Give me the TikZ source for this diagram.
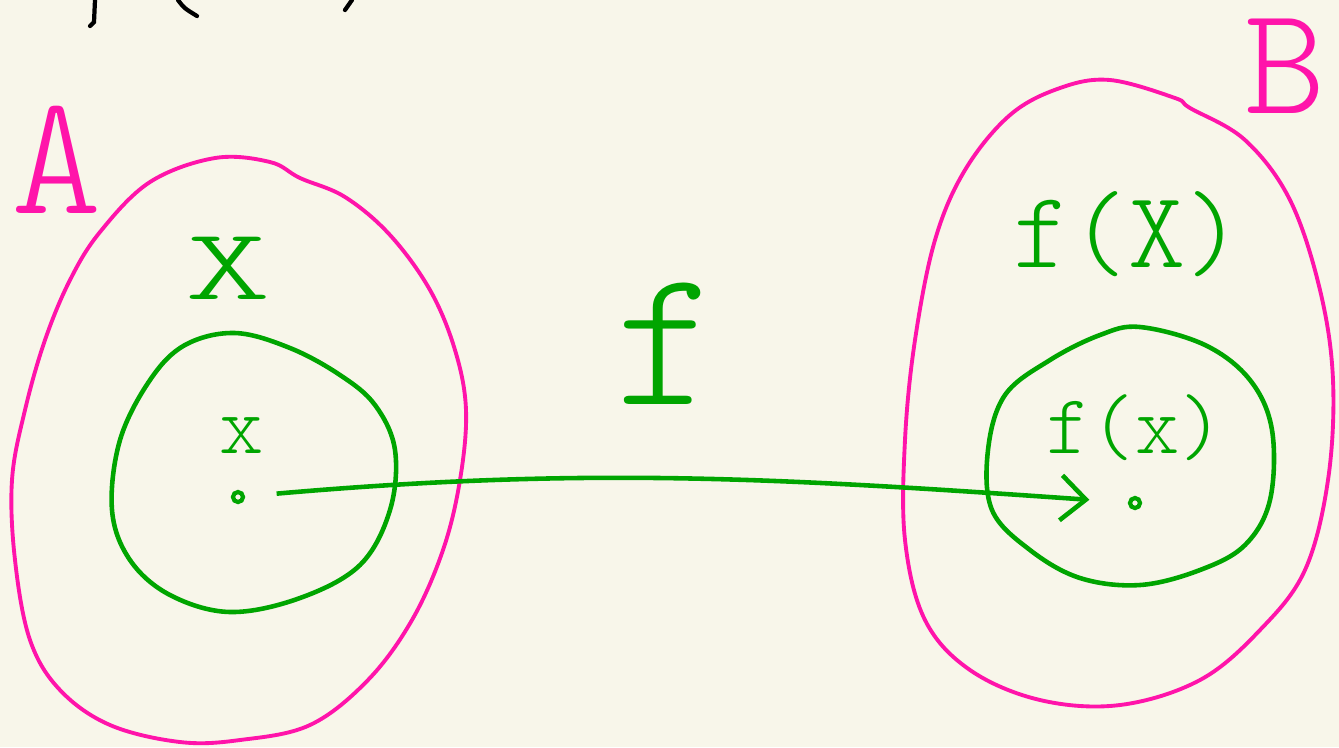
\documentclass[tikz,border=0pt]{standalone}
\usepackage{fontspec}
\usetikzlibrary{arrows.meta}
\newfontfamily\handfont{lmmonolt10-regular.otf}
\definecolor{paper}{RGB}{248,246,234}
\definecolor{setpink}{RGB}{255,20,170}
\definecolor{mapgreen}{RGB}{0,165,0}
\begin{document}
\begin{tikzpicture}[x=0.01cm,y=-0.01cm,
	pinkline/.style = {setpink, line width=1.1pt, line join=round},
	greenline/.style = {mapgreen, line width=1.3pt, line join=round},
	greentext/.style = {mapgreen, font=\handfont},
	pt/.style = {circle, draw=mapgreen, line width=1.2pt, inner sep=0pt, minimum size=0.1cm}]
	\fill [paper] (0,0) rectangle (1339,747);
	\useasboundingbox (0,0) rectangle (1339,747);
	% cut-off writing at the top
	\draw [line width=1.2pt, line cap=round] (95,0) -- (94,22) -- (90,26);
	\draw [line width=1.2pt, line cap=round] (178,0) .. controls (184,8) .. (197,16);
	\draw [line width=1.2pt, line cap=round] (352,0) -- (345,10);
	% set A
	\draw [pinkline] plot [smooth cycle, tension=0.6] coordinates {(215,158) (270,162) (300,178) (345,197) (390,235) (430,290) (455,350) (466,410) (460,480) (443,550) (412,620) (368,680) (310,725) (240,740) (180,742) (110,725) (60,690) (30,640) (15,560) (12,480) (25,410) (45,340) (70,280) (100,232) (150,182)};
	\node [setpink, font=\handfont\fontsize{49}{49}\selectfont] (A) at (57,160) {A};
	\node [greentext, font=\handfont\fontsize{29}{29}\selectfont, xscale=1.6, transform shape] (setX) at (228,268) {X};
	\draw [greenline] plot [smooth cycle, tension=0.6] coordinates {(235,333) (290,348) (340,375) (375,405) (395,450) (390,510) (360,565) (300,598) (230,612) (170,595) (130,560) (112,510) (120,440) (150,380) (185,345)};
	\node [greentext, font=\handfont\fontsize{24}{24}\selectfont] (x) at (242,436) {x};
	\node [pt] (xa) at (238,497) {};
	% set B
	\draw [pinkline] plot [smooth cycle, tension=0.6] coordinates {(1110,80) (1175,98) (1190,108) (1245,140) (1290,200) (1320,290) (1333,380) (1328,480) (1305,570) (1260,630) (1200,680) (1120,705) (1040,700) (970,670) (925,620) (905,540) (905,440) (915,340) (935,240) (965,170) (1010,115) (1060,88)};
	\node [setpink, font=\handfont\fontsize{44}{44}\selectfont, inner sep=0pt, text height=27pt, text depth=0pt] (B) at (1285,66) {B};
	\node [greentext, font=\handfont\fontsize{31}{31}\selectfont] (fX) at (1128,234) {f(X)};
	\draw [greenline] plot [smooth cycle, tension=0.6] coordinates {(1140,327) (1205,345) (1250,380) (1272,430) (1270,500) (1245,545) (1200,570) (1140,585) (1080,578) (1030,550) (992,510) (988,450) (1005,395) (1050,360) (1100,335)};
	\node [greentext, font=\handfont\fontsize{24}{24}\selectfont] (fx) at (1135,428) {f(x)};
	\node [pt] (xb) at (1135,503) {};
	% the map
	\node [greentext, font=\handfont\fontsize{56}{56}\selectfont] (f) at (667,344) {f};
	\draw [greenline, -{Straight Barb[length=2.5mm, width=4.5mm]}, shorten <=9pt, shorten >=11pt] (xa) to [out=5, in=176] (xb);
\end{tikzpicture}
\end{document}
